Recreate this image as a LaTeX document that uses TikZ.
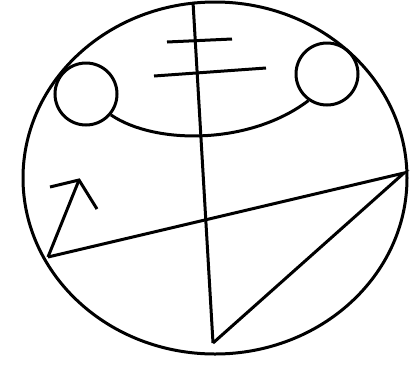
\documentclass[tikz,border=0pt]{standalone}
\begin{document}
\begin{tikzpicture}[x=1pt,y=-1pt,line width=3pt,
  ring/.style={draw,circle,minimum size=62pt,inner sep=0pt,line width=3pt}]
\useasboundingbox (0,0) rectangle (420,365);
\fill[white] (0,0) rectangle (420,365);
% big outline
\draw (215,178) ellipse [x radius=192, y radius=176];
% small circles
\node[ring] (lc) at (86,94) {};
\node[ring] (rc) at (327,74) {};
% connecting arc
\draw (lc.-40) .. controls (155,145) and (250,145) .. (rc.-125);
% vertical line
\coordinate (vt) at (193,2);
\coordinate (vb) at (213,343);
\draw (vt) -- (vb);
% short bars
\coordinate (b1a) at (167,42); \coordinate (b1b) at (232,39);
\coordinate (b2a) at (154,76); \coordinate (b2b) at (266,68);
\draw (b1a) -- (b1b);
\draw (b2a) -- (b2b);
% chord and triangle
\coordinate (cl) at (48,257);
\coordinate (cr) at (404,173);
\draw (cl) -- (cr) -- (vb);
% arrow
\coordinate (at) at (79,180);
\coordinate (aa) at (50,187);
\coordinate (ab) at (97,209);
\draw (cl) -- (at);
\draw[line join=miter] (aa) -- (at) -- (ab);
\end{tikzpicture}
\end{document}
